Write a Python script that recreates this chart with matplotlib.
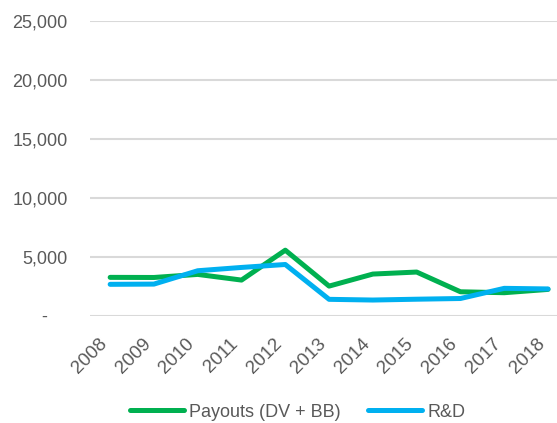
import matplotlib
matplotlib.use("Agg")
import matplotlib.pyplot as plt

years = ['2008', '2009', '2010', '2011', '2012', '2013', '2014', '2015', '2016', '2017', '2018']
payouts = [3270, 3260, 3520, 3040, 5570, 2530, 3550, 3720, 2050, 1970, 2250]
rnd = [2680, 2700, 3830, 4110, 4360, 1410, 1350, 1420, 1480, 2340, 2290]
yticks = [0, 5000, 10000, 15000, 20000, 25000]
ylabels = ['-    ', '5,000', '10,000', '15,000', '20,000', '25,000']

plt.rcParams['font.family'] = ['Liberation Sans', 'DejaVu Sans']
grey = '#595959'

fig = plt.figure(figsize=(5.57, 4.23), dpi=100)
ax = fig.add_axes([0.1616, 0.253, 0.838, 0.698])

x = list(range(len(years)))
ax.plot(x, payouts, color='#00B050', lw=3.6, solid_capstyle='round', label='Payouts (DV + BB)')
ax.plot(x, rnd, color='#00B0F0', lw=3.6, solid_capstyle='round', label='R&D')

ax.set_ylim(0, 25000)
ax.set_xlim(-0.46, 10.2)
ax.set_yticks(yticks)
ax.set_yticklabels(ylabels)
ax.set_xticks(x)
ax.set_xticklabels(years, rotation=45, ha='right')

# grid only, no frame
ax.grid(axis='y', color='#D9D9D9', lw=1.5)
ax.set_axisbelow(True)
for s in ax.spines.values():
    s.set_visible(False)
ax.tick_params(axis='both', length=0, labelsize=13, colors=grey)
ax.tick_params(axis='y', pad=16)
ax.tick_params(axis='x', pad=14, labelsize=13.5)

fig.legend(loc='center', bbox_to_anchor=(0.534, 0.026), ncol=2, frameon=False,
           fontsize=13, handlelength=3, handletextpad=0.3, columnspacing=1.5,
           labelcolor=grey)

fig.savefig('out.png', dpi=100)
